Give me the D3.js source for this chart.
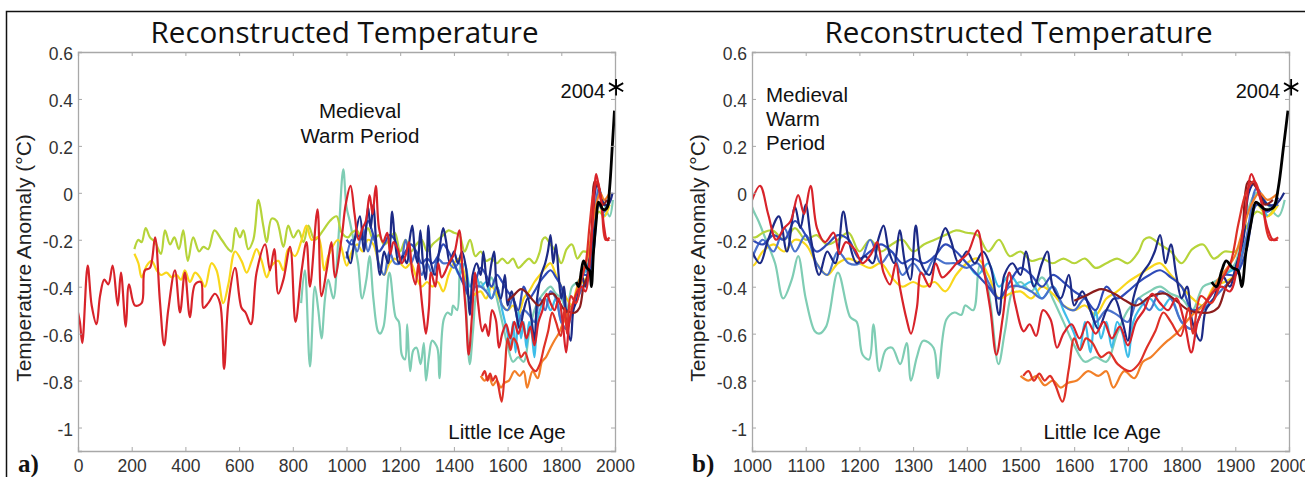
<!DOCTYPE html>
<html>
<head>
<meta charset="utf-8">
<script src="https://cdn.jsdelivr.net/npm/d3@7"></script>
<style>
  body { margin: 0; background: #fff; }
  svg { display: block; }
  text { font-family: "Liberation Sans", Arial, sans-serif; }
</style>
</head>
<body>
<svg id="chart" width="1305" height="477"></svg>
<script>
// reconstructions, [year, anomaly °C]
let moberg = [[0,-0.51],[7,-0.55],[16,-0.64],[36,-0.31],[51,-0.48],[69,-0.56],[82,-0.44],[98,-0.37],[113,-0.39],[129,-0.31],
  [148,-0.48],[160,-0.34],[178,-0.57],[190,-0.39],[212,-0.48],[237,-0.47],[249,-0.33],[268,-0.32],[287,-0.19],[305,-0.46],
  [321,-0.65],[336,-0.5],[361,-0.33],[380,-0.51],[398,-0.34],[417,-0.53],[436,-0.39],[458,-0.38],[467,-0.49],[485,-0.47],
  [510,-0.43],[529,-0.47],[544,-0.75],[560,-0.47],[585,-0.32],[609,-0.49],[624,-0.51],[644,-0.56],[665,-0.34],[697,-0.22],
  [715,-0.33],[731,-0.24],[746,-0.43],[765,-0.37],[790,-0.23],[810,-0.55],[833,-0.33],[851,-0.21],[864,-0.4],[892,-0.07],
  [907,-0.44],[926,-0.33],[944,-0.21],[957,-0.36],[982,-0.19],[997,-0.05],[1015,0.03],[1030,-0.09],[1045,-0.2],[1060,-0.15],
  [1072,-0.12],[1086,-0.01],[1097,-0.09],[1109,0.03],[1121,-0.15],[1136,-0.21],[1152,-0.17],[1163,-0.26],[1175,-0.21],[1191,-0.24],
  [1206,-0.3],[1222,-0.26],[1233,-0.21],[1245,-0.34],[1257,-0.39],[1268,-0.3],[1276,-0.41],[1288,-0.54],[1296,-0.6],[1307,-0.49],
  [1315,-0.34],[1331,-0.4],[1342,-0.3],[1354,-0.36],[1366,-0.34],[1381,-0.3],[1401,-0.26],[1420,-0.16],[1432,-0.33],[1444,-0.5],
  [1455,-0.69],[1467,-0.53],[1479,-0.34],[1490,-0.47],[1506,-0.59],[1517,-0.56],[1529,-0.61],[1542,-0.5],[1556,-0.54],[1568,-0.66],
  [1580,-0.6],[1595,-0.56],[1610,-0.62],[1625,-0.55],[1640,-0.6],[1655,-0.55],[1670,-0.62],[1685,-0.57],[1700,-0.65],[1715,-0.55],
  [1730,-0.5],[1745,-0.43],[1760,-0.47],[1775,-0.5],[1790,-0.45],[1805,-0.55],[1818,-0.68],[1830,-0.55],[1845,-0.47],[1860,-0.42],
  [1875,-0.4],[1890,-0.42],[1905,-0.3],[1918,-0.1],[1930,0.08],[1940,0.02],[1950,-0.05],[1960,-0.15],[1970,-0.2],[1979,-0.2]];

let mannJones = [[210,-0.24],[225,-0.2],[237,-0.21],[252,-0.15],[268,-0.19],[287,-0.21],[309,-0.26],[324,-0.16],[343,-0.22],[359,-0.19],
  [376,-0.24],[392,-0.16],[409,-0.29],[429,-0.19],[451,-0.25],[467,-0.23],[485,-0.24],[508,-0.16],[535,-0.2],[560,-0.24],
  [572,-0.25],[587,-0.15],[603,-0.19],[616,-0.16],[634,-0.24],[653,-0.2],[672,-0.03],[690,-0.14],[703,-0.21],[721,-0.11],
  [740,-0.12],[765,-0.23],[783,-0.14],[802,-0.19],[821,-0.16],[840,-0.21],[858,-0.14],[882,-0.2],[913,-0.16],[938,-0.12],
  [963,-0.1],[982,-0.17],[1006,-0.19],[1020,-0.17],[1038,-0.16],[1060,-0.2],[1080,-0.15],[1100,-0.2],[1120,-0.18],[1140,-0.22],
  [1160,-0.2],[1180,-0.17],[1200,-0.25],[1220,-0.2],[1240,-0.25],[1260,-0.22],[1280,-0.2],[1300,-0.25],[1320,-0.22],[1340,-0.2],
  [1360,-0.18],[1380,-0.16],[1400,-0.17],[1420,-0.18],[1440,-0.25],[1460,-0.2],[1480,-0.27],[1500,-0.25],[1520,-0.29],[1540,-0.28],
  [1560,-0.3],[1580,-0.28],[1600,-0.3],[1620,-0.28],[1640,-0.32],[1660,-0.3],[1680,-0.28],[1700,-0.3],[1720,-0.25],[1730,-0.2],
  [1740,-0.19],[1760,-0.22],[1780,-0.25],[1800,-0.3],[1820,-0.24],[1840,-0.22],[1860,-0.28],[1880,-0.25],[1900,-0.25],[1920,-0.15],
  [1940,-0.08],[1960,-0.1],[1980,-0.03]];

let jonesMann = [[210,-0.26],[225,-0.3],[237,-0.36],[256,-0.31],[274,-0.29],[293,-0.33],[309,-0.35],[330,-0.34],[349,-0.36],[367,-0.35],
  [384,-0.37],[398,-0.33],[417,-0.38],[436,-0.34],[454,-0.36],[473,-0.4],[497,-0.3],[516,-0.33],[541,-0.47],[560,-0.39],
  [585,-0.25],[609,-0.29],[628,-0.34],[647,-0.29],[665,-0.24],[684,-0.29],[703,-0.36],[721,-0.31],[746,-0.29],[765,-0.33],
  [783,-0.24],[808,-0.27],[833,-0.2],[851,-0.14],[870,-0.2],[895,-0.19],[917,-0.33],[932,-0.27],[969,-0.2],[1001,-0.31],
  [1020,-0.25],[1040,-0.22],[1060,-0.25],[1080,-0.2],[1100,-0.22],[1120,-0.3],[1140,-0.35],[1160,-0.3],[1180,-0.28],[1200,-0.3],
  [1220,-0.32],[1240,-0.3],[1260,-0.36],[1280,-0.4],[1300,-0.38],[1320,-0.4],[1340,-0.38],[1360,-0.42],[1380,-0.35],[1400,-0.3],
  [1420,-0.28],[1440,-0.35],[1460,-0.45],[1480,-0.43],[1500,-0.42],[1520,-0.45],[1540,-0.4],[1560,-0.43],[1580,-0.48],[1600,-0.5],
  [1620,-0.48],[1640,-0.52],[1660,-0.45],[1680,-0.42],[1700,-0.38],[1720,-0.35],[1740,-0.32],[1760,-0.3],[1780,-0.35],[1800,-0.4],
  [1820,-0.45],[1840,-0.48],[1860,-0.4],[1880,-0.38],[1900,-0.35],[1920,-0.2],[1940,-0.05],[1960,-0.1],[1980,-0.05]];

let esper = [[831,-0.47],[845,-0.33],[864,-0.74],[882,-0.4],[895,-0.5],[907,-0.62],[920,-0.45],[932,-0.37],[951,-0.45],[969,-0.21],
  [988,0.1],[1000,-0.06],[1012,-0.12],[1026,-0.2],[1043,-0.3],[1058,-0.45],[1074,-0.37],[1086,-0.27],[1100,-0.45],[1117,-0.59],
  [1125,-0.6],[1138,-0.57],[1160,-0.34],[1183,-0.53],[1195,-0.55],[1206,-0.69],[1218,-0.71],[1226,-0.56],[1237,-0.76],[1249,-0.67],
  [1261,-0.66],[1276,-0.73],[1288,-0.64],[1296,-0.8],[1307,-0.7],[1319,-0.63],[1338,-0.66],[1346,-0.79],[1362,-0.54],[1377,-0.51],
  [1390,-0.52],[1397,-0.48],[1412,-0.5],[1424,-0.31],[1432,-0.33],[1444,-0.47],[1459,-0.73],[1471,-0.59],[1486,-0.41],[1500,-0.38],
  [1520,-0.42],[1540,-0.36],[1560,-0.45],[1580,-0.55],[1600,-0.65],[1620,-0.72],[1640,-0.7],[1660,-0.72],[1680,-0.6],[1700,-0.5],
  [1720,-0.45],[1740,-0.42],[1760,-0.4],[1780,-0.43],[1800,-0.45],[1820,-0.5],[1840,-0.4],[1860,-0.38],[1880,-0.35],[1900,-0.3],
  [1920,-0.1],[1940,0],[1960,-0.05],[1980,-0.1],[1992,-0.03]];

let jones98 = [[1000,-0.25],[1015,-0.3],[1030,-0.2],[1050,-0.1],[1065,-0.25],[1080,-0.06],[1090,-0.15],[1100,-0.05],[1110,-0.2],[1125,-0.35],
  [1140,-0.25],[1155,-0.3],[1170,-0.08],[1180,-0.2],[1195,-0.3],[1210,-0.27],[1225,-0.3],[1235,-0.2],[1245,-0.14],[1255,-0.25],
  [1265,-0.3],[1275,-0.16],[1285,-0.3],[1295,-0.37],[1305,-0.14],[1315,-0.3],[1330,-0.35],[1345,-0.25],[1360,-0.15],[1370,-0.2],
  [1385,-0.3],[1400,-0.25],[1415,-0.3],[1430,-0.25],[1445,-0.32],[1460,-0.52],[1470,-0.35],[1485,-0.3],[1500,-0.35],[1510,-0.25],
  [1525,-0.4],[1540,-0.3],[1550,-0.25],[1560,-0.4],[1575,-0.45],[1590,-0.35],[1600,-0.48],[1615,-0.42],[1630,-0.5],[1645,-0.58],
  [1660,-0.5],[1675,-0.45],[1690,-0.55],[1700,-0.63],[1710,-0.45],[1725,-0.35],[1740,-0.3],[1750,-0.25],[1760,-0.18],[1770,-0.3],
  [1780,-0.22],[1790,-0.35],[1800,-0.45],[1810,-0.4],[1820,-0.55],[1835,-0.63],[1845,-0.5],[1860,-0.45],[1875,-0.35],[1890,-0.4],
  [1900,-0.32],[1915,-0.2],[1925,0],[1935,0.04],[1945,0],[1960,-0.05],[1975,-0.05],[1991,0]];

let mann99 = [[1000,-0.2],[1020,-0.22],[1040,-0.18],[1060,-0.2],[1080,-0.12],[1100,-0.18],[1120,-0.25],[1140,-0.22],[1160,-0.18],[1180,-0.2],
  [1200,-0.28],[1220,-0.25],[1240,-0.22],[1260,-0.25],[1280,-0.3],[1300,-0.28],[1320,-0.3],[1340,-0.27],[1360,-0.22],[1380,-0.25],
  [1400,-0.3],[1420,-0.35],[1440,-0.4],[1460,-0.45],[1480,-0.38],[1500,-0.32],[1520,-0.35],[1540,-0.4],[1560,-0.35],[1580,-0.38],
  [1600,-0.42],[1620,-0.45],[1640,-0.5],[1660,-0.4],[1680,-0.45],[1700,-0.42],[1720,-0.38],[1740,-0.35],[1760,-0.33],[1780,-0.36],
  [1800,-0.4],[1820,-0.5],[1840,-0.48],[1860,-0.42],[1880,-0.35],[1900,-0.35],[1920,-0.25],[1940,-0.05],[1960,-0.08],[1980,-0.02]];

let crowley = [[1000,-0.28],[1020,-0.2],[1040,-0.25],[1060,-0.15],[1080,-0.25],[1100,-0.18],[1120,-0.3],[1140,-0.35],[1160,-0.25],[1180,-0.3],
  [1200,-0.3],[1220,-0.2],[1240,-0.3],[1260,-0.25],[1280,-0.35],[1300,-0.3],[1320,-0.35],[1340,-0.28],[1360,-0.3],[1380,-0.3],
  [1400,-0.32],[1420,-0.3],[1440,-0.38],[1460,-0.45],[1480,-0.4],[1500,-0.4],[1520,-0.42],[1540,-0.45],[1560,-0.4],[1580,-0.48],
  [1600,-0.5],[1620,-0.45],[1640,-0.55],[1660,-0.5],[1680,-0.52],[1700,-0.55],[1720,-0.45],[1740,-0.5],[1760,-0.42],[1780,-0.45],
  [1800,-0.55],[1820,-0.58],[1840,-0.5],[1860,-0.45],[1880,-0.4],[1900,-0.35],[1920,-0.2],[1940,0.02],[1960,-0.05],[1980,-0.05]];

let briffa = [[1402,-0.3],[1420,-0.35],[1440,-0.3],[1460,-0.4],[1480,-0.35],[1500,-0.4],[1520,-0.38],[1540,-0.45],[1560,-0.4],[1580,-0.5],
  [1600,-0.6],[1610,-0.67],[1620,-0.55],[1630,-0.68],[1640,-0.5],[1650,-0.62],[1660,-0.55],[1670,-0.66],[1680,-0.55],[1690,-0.6],
  [1700,-0.7],[1710,-0.55],[1720,-0.5],[1740,-0.45],[1760,-0.5],[1780,-0.45],[1800,-0.55],[1820,-0.58],[1840,-0.5],[1860,-0.45],
  [1880,-0.35],[1900,-0.32],[1920,-0.2],[1940,-0.05],[1960,-0.1]];

let huang = [[1500,-0.78],[1515,-0.8],[1530,-0.78],[1545,-0.82],[1560,-0.8],[1575,-0.83],[1588,-0.81],[1605,-0.8],[1626,-0.76],[1645,-0.78],
  [1660,-0.76],[1673,-0.83],[1693,-0.76],[1712,-0.79],[1728,-0.72],[1743,-0.7],[1760,-0.66],[1774,-0.63],[1790,-0.6],[1805,-0.56],
  [1820,-0.52],[1836,-0.49],[1852,-0.44],[1868,-0.37],[1885,-0.32],[1899,-0.27],[1915,-0.15],[1930,-0.05],[1945,0],[1960,-0.03],[1980,0]];

let pollack = [[1505,-0.78],[1515,-0.76],[1525,-0.8],[1535,-0.77],[1545,-0.8],[1555,-0.78],[1565,-0.82],[1578,-0.89],[1590,-0.75],[1600,-0.62],
  [1611,-0.67],[1622,-0.62],[1634,-0.64],[1650,-0.7],[1665,-0.68],[1681,-0.73],[1704,-0.76],[1720,-0.73],[1735,-0.66],[1751,-0.59],
  [1766,-0.51],[1780,-0.55],[1798,-0.61],[1813,-0.49],[1821,-0.6],[1836,-0.44],[1855,-0.47],[1875,-0.37],[1891,-0.3],[1906,-0.13],
  [1920,0],[1935,0.05],[1950,-0.05],[1965,-0.2],[1980,-0.19]];

let oerlemans = [[1600,-0.46],[1620,-0.44],[1650,-0.41],[1675,-0.43],[1696,-0.46],[1716,-0.48],[1743,-0.44],[1770,-0.43],[1790,-0.46],[1813,-0.5],
  [1836,-0.51],[1852,-0.51],[1868,-0.49],[1883,-0.4],[1899,-0.35],[1912,-0.2],[1925,0.05],[1940,0.02],[1955,-0.05],[1970,-0.03]];

let instrumental = [[1856,-0.38],[1865,-0.4],[1875,-0.33],[1883,-0.29],[1895,-0.32],[1905,-0.33],[1912,-0.4],[1920,-0.25],[1930,-0.12],[1938,-0.04],
  [1945,-0.05],[1955,-0.07],[1965,-0.07],[1972,-0.06],[1980,0.02],[1990,0.2],[1998,0.35]];

let year2004 = [2004, 0.45];

let yTicks = [-1, -0.8, -0.6, -0.4, -0.2, 0, 0.2, 0.4, 0.6];
let xTicksA = d3.range(0, 2001, 200);
let xTicksB = d3.range(1000, 2001, 100);

let series = [
  {name: 'Esper 2002', data: esper, color: '#7fcdb4'},
  {name: 'Mann & Jones 2003', data: mannJones, color: '#b6d43a'},
  {name: 'Jones & Mann 2004', data: jonesMann, color: '#f9d71c'},
  {name: 'Briffa 2001', data: briffa, color: '#3dbde9'},
  {name: 'Crowley 2000', data: crowley, color: '#4a72cc'},
  {name: 'Mann 1999', data: mann99, color: '#2f4bb8'},
  {name: 'Jones 1998', data: jones98, color: '#1c2a86'},
  {name: 'Huang 2004', data: huang, color: '#f27f27'},
  {name: 'Oerlemans 2005', data: oerlemans, color: '#8c1d1d'},
  {name: 'Pollack 2004', data: pollack, color: '#de3027'},
  {name: 'Moberg 2005', data: moberg, color: '#d8232a'},
  {name: 'Instrumental', data: instrumental, color: '#000'}
];

let svg = d3.select('#chart');

// outer frame
svg.append('path')
  .attr('d', 'M6.5,477V11.5H1305')
  .attr('fill', 'none')
  .attr('stroke', '#111')
  .attr('stroke-width', 1.5);

function panel(id, left, right, domain, xTicks, letter, letterX) {
  let x = d3.scaleLinear().domain(domain).range([left, right]);
  let y = d3.scaleLinear().domain([-1.1, 0.6]).range([451, 52]);
  let g = svg.append('g');

  g.append('clipPath').attr('id', 'clip' + id)
    .append('rect')
    .attr('x', left).attr('y', 52)
    .attr('width', right - left).attr('height', 399);

  g.append('text')
    .attr('x', (left + right) / 2 - 2)
    .attr('y', 43)
    .attr('text-anchor', 'middle')
    .attr('textLength', 388)
    .attr('lengthAdjust', 'spacingAndGlyphs')
    .style('font-family', '"Open Sans", sans-serif')
    .style('font-size', '29px')
    .attr('fill', '#111')
    .text('Reconstructed Temperature');

  let line = d3.line()
    .x(d => x(d[0]))
    .y(d => y(d[1]))
    .curve(d3.curveCatmullRom.alpha(0.5));

  g.append('g').attr('clip-path', 'url(#clip' + id + ')')
    .selectAll('path')
    .data(series)
    .enter()
    .append('path')
    .attr('d', d => line(d.data))
    .attr('fill', 'none')
    .attr('stroke', d => d.color)
    .attr('stroke-width', d => d.name == 'Instrumental' ? 2.8 : 2.2)
    .attr('stroke-linejoin', 'round');

  // box + inward ticks
  let fmt = d => String(+d.toFixed(1));
  let axes = [
    [d3.axisBottom(x).tickValues(xTicks).tickSize(-4).tickPadding(9).tickFormat(d => d), 451, 0, 'x'],
    [d3.axisTop(x).tickValues(xTicks).tickSize(-4).tickFormat(''), 52, 0, ''],
    [d3.axisLeft(y).tickValues(yTicks).tickSize(-4).tickPadding(5).tickFormat(fmt), 0, left, 'y'],
    [d3.axisRight(y).tickValues(yTicks).tickSize(-4).tickFormat(''), 0, right, '']
  ];
  axes.forEach(a => {
    let ag = g.append('g').attr('transform', `translate(${a[2]},${a[1]})`).call(a[0]);
    ag.select('.domain').attr('stroke', '#a8a8a8').attr('stroke-width', 1.3);
    ag.selectAll('.tick line').attr('stroke', '#a8a8a8');
    ag.selectAll('.tick text').style('font-size', '17.5px').attr('fill', '#333')
      .style('font-family', '"Liberation Sans", Arial, sans-serif');
    if (a[3] == 'y') ag.selectAll('.tick text').attr('dy', '0.45em');
  });

  g.append('text')
    .attr('transform', `translate(${left - 47},258) rotate(-90)`)
    .attr('text-anchor', 'middle')
    .style('font-size', '21px')
    .attr('fill', '#222')
    .text('Temperature Anomaly (°C)');

  g.append('text')
    .attr('x', letterX).attr('y', 472)
    .style('font-family', '"Liberation Serif", "Times New Roman", serif')
    .style('font-weight', 'bold')
    .style('font-size', '25px')
    .attr('fill', '#111')
    .text(letter);

  // 2004 marker
  g.append('path')
    .attr('transform', `translate(${x(year2004[0])},${y(year2004[1])})`)
    .attr('d', d3.symbol(d3.symbolAsterisk, 190)())
    .attr('fill', 'none')
    .attr('stroke', '#000')
    .attr('stroke-width', 1.8);
  g.append('text')
    .attr('x', x(year2004[0]) - 11).attr('y', y(year2004[1]) + 11)
    .attr('text-anchor', 'end')
    .style('font-size', '20px')
    .attr('fill', '#111')
    .text('2004');

  return {g, x, y};
}

let a = panel('a', 78, 615, [0, 2000], xTicksA, 'a)', 18);
let b = panel('b', 752, 1289, [1000, 2000], xTicksB, 'b)', 692);

function note(p, lines, xv, yv, anchor, step) {
  lines.forEach((t, i) => {
    p.g.append('text')
      .attr('x', p.x(xv)).attr('y', p.y(yv) + i * step)
      .attr('dy', '0.35em')
      .attr('text-anchor', anchor)
      .style('font-size', '20.5px')
      .attr('fill', '#111')
      .text(t);
  });
}

note(a, ['Medieval', 'Warm Period'], 1050, 0.35, 'middle', 25);
note(a, ['Little Ice Age'], 1598, -1.02, 'middle', 0);
note(b, ['Medieval', 'Warm', 'Period'], 1026, 0.417, 'start', 24);
note(b, ['Little Ice Age'], 1652, -1.02, 'middle', 0);
</script>
</body>
</html>
